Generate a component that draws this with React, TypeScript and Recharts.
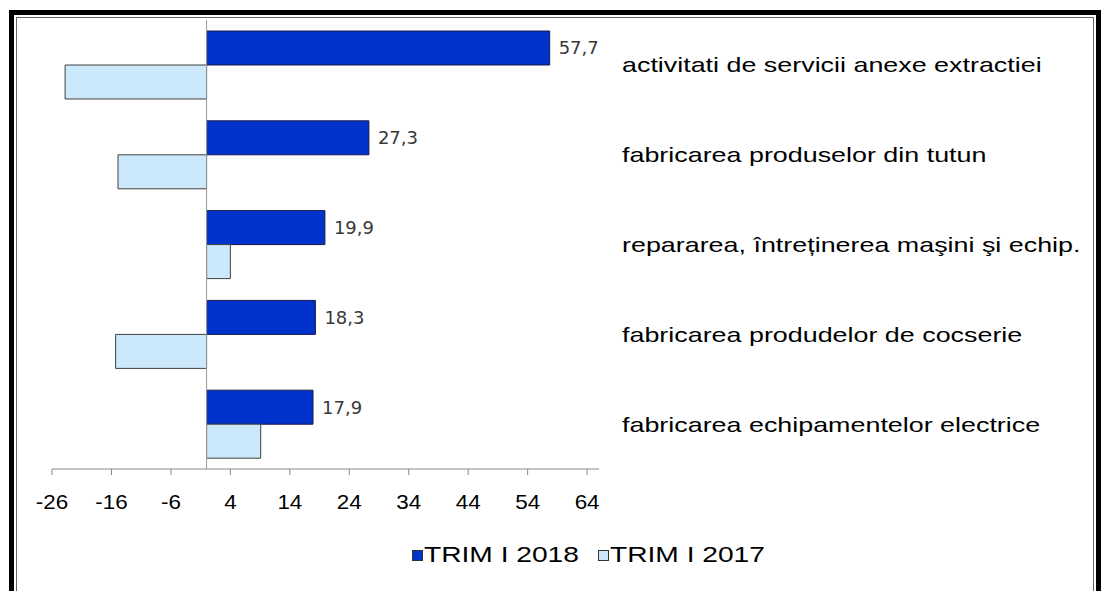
import React from 'react';
import { BarChart, Bar, XAxis, YAxis, ReferenceLine, LabelList } from 'recharts';

const categories = [
  'activitati de servicii anexe extractiei',
  'fabricarea produselor din tutun',
  'repararea, întreținerea maşini şi echip.',
  'fabricarea produdelor de cocserie',
  'fabricarea echipamentelor electrice',
];
const trim2018 = [57.7, 27.3, 19.9, 18.3, 17.9];
const trim2017 = [-23.8, -14.9, 4.0, -15.3, 9.1];
const xTicks = [-26, -16, -6, 4, 14, 24, 34, 44, 54, 64];

const DARK = '#0033cc';
const LIGHT = '#cce9fb';

const data = categories.map((name, i) => ({ name, t2018: trim2018[i], t2017: trim2017[i] }));

const fmt = (v: any) => Number(v).toFixed(1).replace('.', ',');

const CategoryTick = ({ x, y, payload }: any) => (
  <g transform={`translate(${x},${y})`}>
    <text x={0} y={0} dy="0.36em" textAnchor="start" fill="#000" fontSize={21}
      fontFamily="'Liberation Sans', Arial, sans-serif" transform="scale(1.28,1)">
      {payload.value}
    </text>
  </g>
);

const ValueTick = ({ x, y, payload }: any) => (
  <g transform={`translate(${x},${y})`}>
    <text x={0} y={0} dy="0.71em" textAnchor="middle" fill="#000" fontSize={20}
      fontFamily="'Liberation Sans', Arial, sans-serif" transform="scale(1.12,1)">
      {payload.value}
    </text>
  </g>
);

const legendItems = [
  { label: 'TRIM I 2018', color: DARK, left: 412 },
  { label: 'TRIM I 2017', color: LIGHT, left: 598 },
];

export default function App() {
  return (
    <div style={{ position: 'absolute', left: 0, top: 0, width: 1101, height: 591, background: '#fff', overflow: 'hidden' }}>
      <div
        style={{
          position: 'absolute', left: 9, top: 10, width: 1092, height: 640, boxSizing: 'border-box',
          border: '5px solid #000', borderBottom: 'none',
          boxShadow: 'inset 0 0 0 2px #fff, inset 0 0 0 3px #666',
        }}
      />
      <div style={{ position: 'absolute', left: 0, top: 0 }}>
        <BarChart
          width={1101}
          height={591}
          data={data}
          layout="vertical"
          margin={{ top: 20, right: 0, bottom: 62, left: 52 }}
          barCategoryGap={11}
          barGap={0}
        >
          <XAxis
            type="number"
            domain={[-26, 66]}
            ticks={xTicks}
            allowDataOverflow
            stroke="#888"
            tickSize={6}
            tickMargin={20}
            height={60}
            tick={<ValueTick />}
          />
          <YAxis
            type="category"
            dataKey="name"
            orientation="right"
            width={502}
            axisLine={false}
            tickLine={false}
            tickSize={0}
            tickMargin={23}
            tick={<CategoryTick />}
          />
          <ReferenceLine x={0} stroke="#999" strokeWidth={1} />
          <Bar dataKey="t2018" fill={DARK} stroke="#1a1a4a" strokeWidth={1} isAnimationActive={false}>
            <LabelList dataKey="t2018" position="right" offset={9} formatter={fmt}
              fill="#383838" fontSize={18} fontFamily="'DejaVu Sans', sans-serif" />
          </Bar>
          <Bar dataKey="t2017" fill={LIGHT} stroke="#404040" strokeWidth={1} isAnimationActive={false} />
        </BarChart>
      </div>
      {legendItems.map((it) => (
        <div key={it.label} style={{ position: 'absolute', left: it.left, top: 544, height: 22, display: 'flex', alignItems: 'center' }}>
          <span style={{ display: 'inline-block', width: 9, height: 9, background: it.color, border: '1px solid #333' }} />
          <span style={{
            display: 'inline-block', marginLeft: 1, fontSize: 22, color: '#000', lineHeight: '22px',
            fontFamily: "'Liberation Sans', Arial, sans-serif", transform: 'scaleX(1.28)', transformOrigin: 'left center',
          }}>
            {it.label}
          </span>
        </div>
      ))}
    </div>
  );
}
